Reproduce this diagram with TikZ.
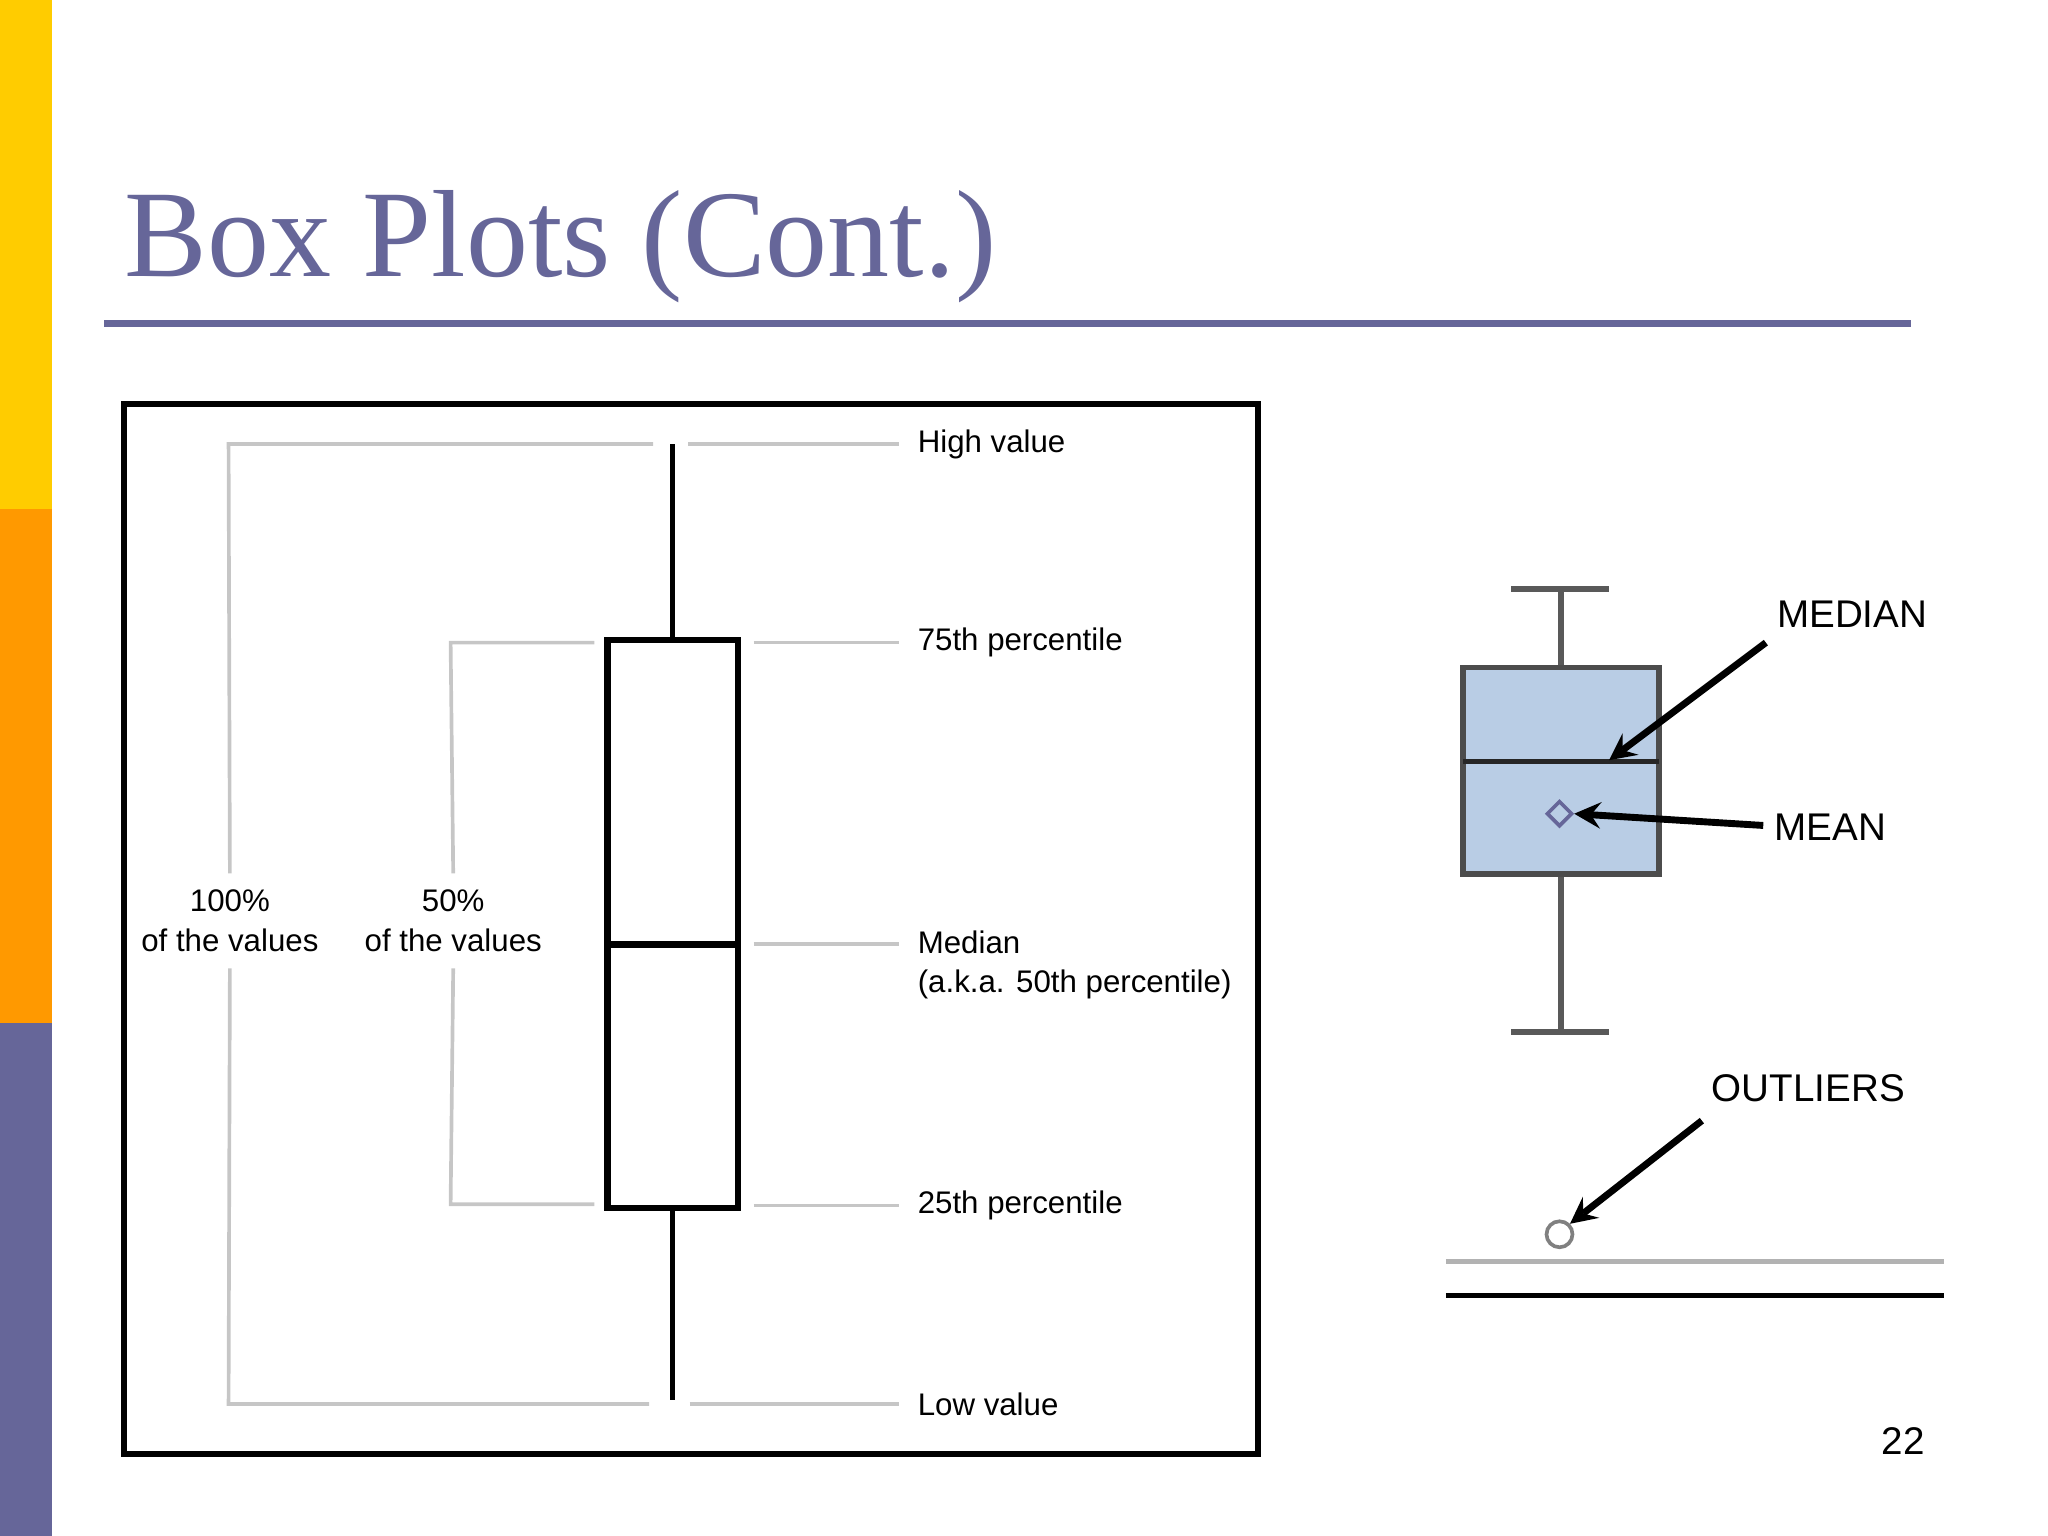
\documentclass[tikz,border=0pt]{standalone}
\usepackage{fontspec}
\setmainfont{Liberation Serif}
\newfontfamily\labelfont{Liberation Sans}
\usetikzlibrary{shapes, arrows}
\definecolor{slideyellow}{HTML}{FFCC00}
\definecolor{slideorange}{HTML}{FF9900}
\definecolor{slidepurple}{HTML}{666699}
\definecolor{boxblue}{HTML}{B9CDE5}
\tikzset{
  guide/.style={gray!45, line width=0.8pt},
  lbl/.style={font=\labelfont\fontsize{6.8}{8.5}\selectfont, anchor=west, align=left, inner sep=0pt},
  rlbl/.style={font=\labelfont\fontsize{8.4}{10}\selectfont, anchor=west, inner sep=0pt},
}
\begin{document}
\begin{tikzpicture}[x=0.01cm, y=-0.01cm]
        \useasboundingbox (0,0) rectangle (1568,1176);
        % Side bars
        \fill[slideyellow] (0,0) rectangle (40,390);
        \fill[slideorange] (0,390) rectangle (40,783);
        \fill[slidepurple] (0,783) rectangle (40,1176);

        % Title
        \node[anchor=base west, inner sep=0pt, text=slidepurple, font=\fontsize{27}{31}\selectfont] (title) at (95,212) {Box Plots (Cont.)};
        \draw[slidepurple, line width=1.5pt] (80,248) -- (1463,248);

        % Left frame
        \draw[line width=1.3pt] (95,309) rectangle (963,1113);

        % Whisker and box
        \draw[line width=1.2pt] (515,340) -- (515,490);
        \draw[line width=1.2pt] (515,925) -- (515,1072);
        \draw[line width=1.4pt] (465,490) rectangle (565,925);
        \draw[line width=1.4pt] (465,723) -- (565,723);

        % 100% bracket
        \node[font=\labelfont\fontsize{6.8}{8.8}\selectfont, align=center] (all) at (176,705) {100\%\\of the values};
        \draw[guide] (all.north) -- (175,340) -- (500,340);
        \draw[guide] (all.south) -- (175,1075) -- (497,1075);

        % 50% bracket
        \node[font=\labelfont\fontsize{6.8}{8.8}\selectfont, align=center] (half) at (347,705) {50\%\\of the values};
        \draw[guide] (half.north) -- (345,492) -- (455,492);
        \draw[guide] (half.south) -- (345,922) -- (455,922);

        % Right labels
        \node[lbl] (high) at (702,340) {High value};
        \node[lbl] (q3) at (702,492) {75th percentile};
        \node[lbl] (med) at (702,739) {Median\\(a.k.a. 50th percentile)};
        \node[lbl] (q1) at (702,923) {25th percentile};
        \node[lbl] (low) at (702,1075) {Low value};
        \draw[guide] (527,340) -- (high.west -| 688,0);
        \draw[guide] (577,492) -- (q3.west -| 688,0);
        \draw[guide] (577,723) -- (688,723);
        \draw[guide] (577,923) -- (q1.west -| 688,0);
        \draw[guide] (528,1075) -- (low.west -| 688,0);

        % Small box plot
        \draw[gray!70!black, line width=1.4pt] (1157,451) -- (1232,451);
        \draw[gray!70!black, line width=1.4pt] (1195,451) -- (1195,511);
        \draw[gray!70!black, line width=1.4pt] (1195,669) -- (1195,790);
        \draw[gray!70!black, line width=1.4pt] (1157,790) -- (1232,790);
        \draw[fill=boxblue, draw=gray!60!black, line width=1.2pt] (1120,511) rectangle (1270,669);
        \draw[gray!30!black, line width=1.2pt] (1120,583) -- (1270,583);
        \node[diamond, draw=slidepurple, inner sep=1.4pt, line width=0.8pt] (mean) at (1194,623) {};
        \node[circle, draw=gray, inner sep=2pt, line width=0.8pt] (outlier) at (1194,945) {};

        \node[rlbl] (mediantxt) at (1360,470) {MEDIAN};
        \node[rlbl] (meantxt) at (1358,633) {MEAN};
        \node[rlbl] (outtxt) at (1310,833) {OUTLIERS};
        \draw[line width=1.5pt, -stealth] (1352,492) -- (1232,582);
        \draw[line width=1.5pt, -stealth] (1350,632) -- (mean.east);
        \draw[line width=1.5pt, -stealth] (1303,858) -- (outlier.north east);

        \draw[gray!60, line width=1.2pt] (1107,966) -- (1488,966);
        \draw[line width=1pt] (1107,992) -- (1488,992);

        % Page number
        \node[font=\labelfont\fontsize{8.4}{10}\selectfont] (page) at (1457,1103) {22};
\end{tikzpicture}
\end{document}
